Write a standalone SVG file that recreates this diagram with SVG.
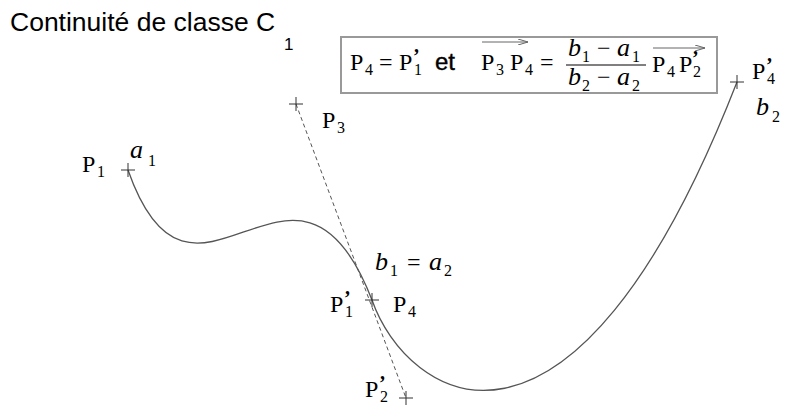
<svg xmlns="http://www.w3.org/2000/svg" width="787" height="408" viewBox="0 0 787 408">
<defs>
<style>
.s{font-family:"Liberation Sans",Arial,sans-serif;fill:#000}
.r{font-family:"Liberation Serif","Times New Roman",serif;font-style:normal;fill:#000}
.i{font-family:"Liberation Serif","Times New Roman",serif;font-style:italic;fill:#000}
.pr{font-family:"Liberation Serif","Times New Roman",serif;font-style:normal;font-weight:bold;fill:#000}
.cross{stroke:#333;stroke-width:1;fill:none}
.curve{stroke:#555;stroke-width:1.3;fill:none}
.dash{stroke:#555;stroke-width:1;stroke-dasharray:4 3;fill:none}
.vec{stroke:#666;stroke-width:1;fill:none}
</style>
<marker id="ah" viewBox="0 0 10 6" refX="10" refY="3" markerWidth="10" markerHeight="6" markerUnits="userSpaceOnUse" orient="auto">
<path d="M0,0 L10,3 L0,6" fill="none" stroke="#666" stroke-width="1"/>
</marker>
</defs>
<rect width="787" height="408" fill="#fff"/>
<g id="title">
<text class="s" x="10" y="31" font-size="26.5">Continuité de classe C</text>
<text class="s" x="284" y="50" font-size="17">1</text>
</g>
<g id="formula">
<rect x="341" y="37" width="376" height="56" fill="none" stroke="#999" stroke-width="2"/>
<text class="r" x="350" y="70" font-size="24">P</text>
<text class="r" x="365" y="75" font-size="16">4</text>
<text class="r" x="379" y="70" font-size="24">=</text>
<text class="r" x="399" y="70" font-size="24">P</text>
<text class="r" x="414" y="75" font-size="16">1</text>
<text class="pr" x="413" y="63" font-size="20">’</text>
<text class="s" x="435" y="70" font-size="24" stroke="#000" stroke-width="0.4">et</text>
<text class="r" x="481" y="70" font-size="24">P</text>
<text class="r" x="496" y="75" font-size="16">3</text>
<text class="r" x="510" y="70" font-size="24">P</text>
<text class="r" x="525" y="75" font-size="16">4</text>
<text class="r" x="540" y="70" font-size="24">=</text>
<line class="vec" x1="482" y1="42" x2="528" y2="42" marker-end="url(#ah)"/>
<text class="i" x="568" y="56" font-size="26">b</text>
<text class="r" x="582" y="62" font-size="16">1</text>
<text class="r" x="597" y="56" font-size="24">−</text>
<text class="i" x="617" y="56" font-size="26">a</text>
<text class="r" x="632" y="62" font-size="16">1</text>
<line x1="566" y1="65" x2="646" y2="65" stroke="#000" stroke-width="1"/>
<text class="i" x="568" y="85" font-size="26">b</text>
<text class="r" x="582" y="91" font-size="16">2</text>
<text class="r" x="597" y="85" font-size="24">−</text>
<text class="i" x="617" y="85" font-size="26">a</text>
<text class="r" x="632" y="91" font-size="16">2</text>
<text class="r" x="652" y="72" font-size="24">P</text>
<text class="r" x="667" y="77" font-size="16">4</text>
<text class="r" x="679" y="72" font-size="24">P</text>
<text class="r" x="693" y="77" font-size="16">2</text>
<text class="pr" x="692" y="65" font-size="20">’</text>
<line class="vec" x1="653" y1="48" x2="705" y2="48" marker-end="url(#ah)"/>
</g>
<g id="connectors">
<path class="curve" d="M128,170 C193,356 296,104 372,300"/>
<path class="curve" d="M372,300 C406,398 570,510 737,82"/>
<line class="dash" x1="296" y1="104" x2="406" y2="398"/>
</g>
<g id="P1">
<path class="cross" d="M121,170 H135 M128,163 V177"/>
<text class="r" x="82" y="172" font-size="24">P</text>
<text class="r" x="97" y="177" font-size="16">1</text>
<text class="i" x="130" y="158" font-size="26">a</text>
<text class="r" x="148" y="166" font-size="16">1</text>
</g>
<g id="P3">
<path class="cross" d="M289,104 H303 M296,97 V111"/>
<text class="r" x="322" y="128" font-size="24">P</text>
<text class="r" x="337" y="133" font-size="16">3</text>
</g>
<g id="P4">
<path class="cross" d="M365,300 H379 M372,293 V307"/>
<text class="r" x="330" y="312" font-size="24">P</text>
<text class="r" x="345" y="317" font-size="16">1</text>
<text class="pr" x="344" y="305" font-size="20">’</text>
<text class="r" x="393" y="312" font-size="24">P</text>
<text class="r" x="408" y="317" font-size="16">4</text>
<text class="i" x="375" y="270" font-size="26">b</text>
<text class="r" x="390" y="276" font-size="16">1</text>
<text class="r" x="407" y="270" font-size="24">=</text>
<text class="i" x="429" y="270" font-size="26">a</text>
<text class="r" x="444" y="276" font-size="16">2</text>
</g>
<g id="P2p">
<path class="cross" d="M399,398 H413 M406,391 V405"/>
<text class="r" x="365" y="397" font-size="24">P</text>
<text class="r" x="380" y="402" font-size="16">2</text>
<text class="pr" x="379" y="390" font-size="20">’</text>
</g>
<g id="P4p">
<path class="cross" d="M730,82 H744 M737,75 V89"/>
<text class="r" x="752" y="79" font-size="24">P</text>
<text class="r" x="767" y="84" font-size="16">4</text>
<text class="pr" x="766" y="72" font-size="20">’</text>
<text class="i" x="756" y="115" font-size="26">b</text>
<text class="r" x="772" y="122" font-size="16">2</text>
</g>
</svg>
